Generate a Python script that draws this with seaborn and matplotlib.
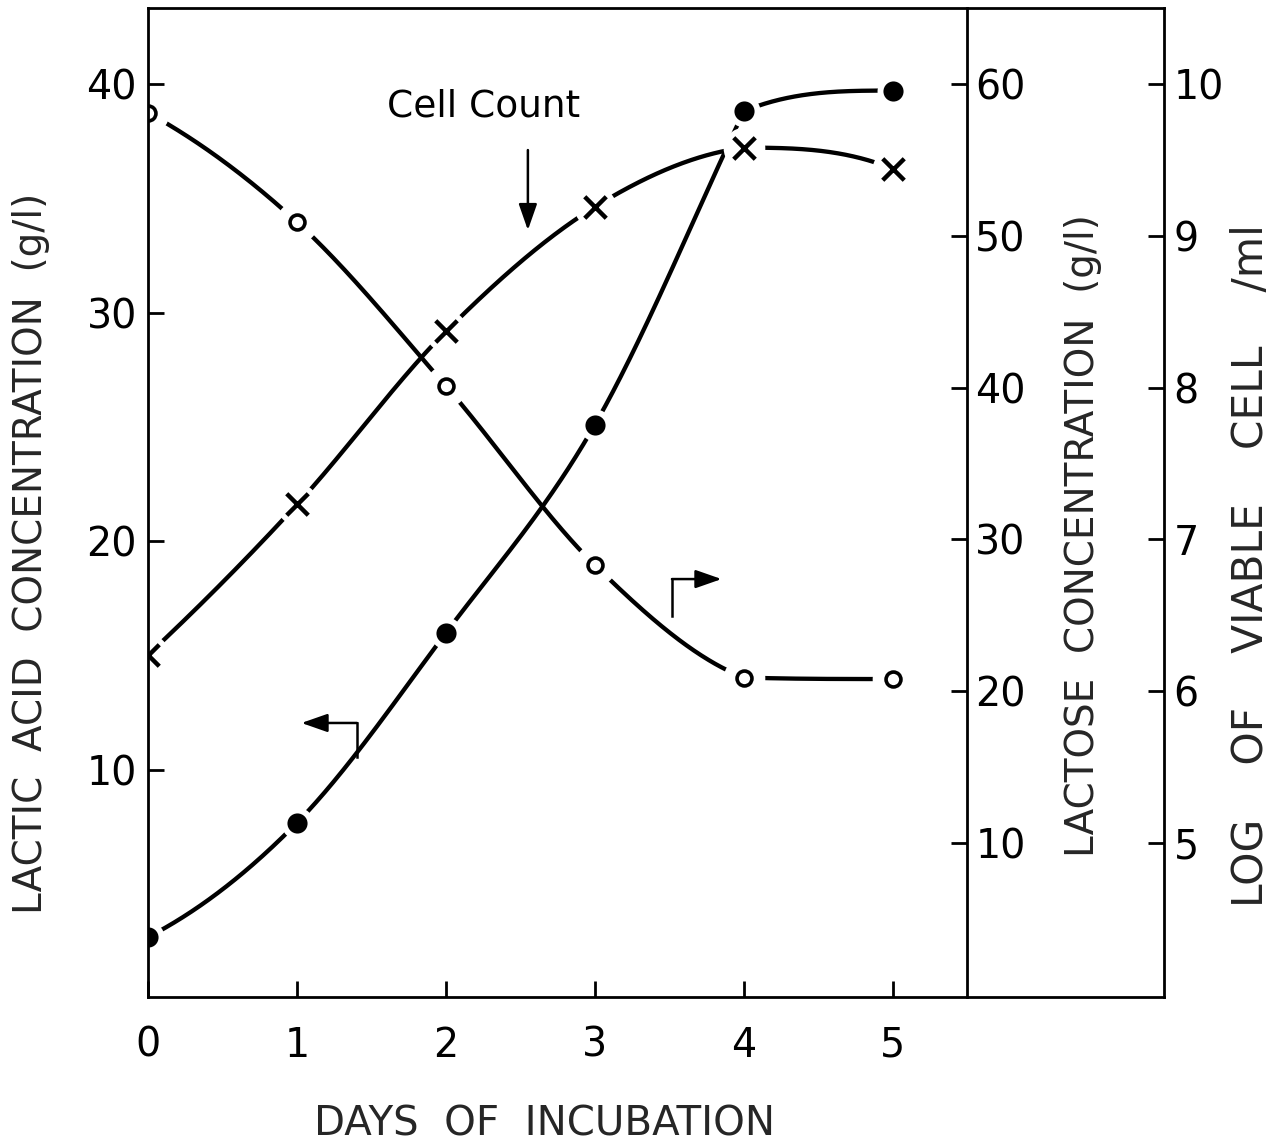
import numpy as np
import pandas as pd
import matplotlib
matplotlib.use("Agg")
import matplotlib.pyplot as plt
import seaborn as sns

# ---------------- data ----------------
days = [0, 1, 2, 3, 4, 5]
lactic_acid = [2.7, 7.7, 16.0, 25.1, 38.8, 39.7]        # g/l, left axis (filled circles)
lactose = [58.1, 50.9, 40.1, 28.3, 20.9, 20.8]          # g/l, middle axis (open circles)
log_cells = [6.24, 7.23, 8.37, 9.19, 9.58, 9.44]        # log viable cell / ml, right axis (x)

x_ticks = [0, 1, 2, 3, 4, 5]
lactic_ticks = [10, 20, 30, 40]
lactose_ticks = [10, 20, 30, 40, 50, 60]
cell_ticks = [5, 6, 7, 8, 9, 10]


def smooth_curve(x, y, xf, knee=False):
    """Hand-drawn-like curve: cubic Hermite with Catmull-Rom tangents,
    optional one-sided tangents at a sharp knee, limited per segment
    (Fritsch-Carlson) so there is no overshoot."""
    x = np.asarray(x, float); y = np.asarray(y, float)
    n = len(x); h = np.diff(x); d = np.diff(y) / h
    m0 = (3 * d[0] - d[1]) / 2
    mn = (3 * d[-1] - d[-2]) / 2
    left = np.zeros(n - 1); right = np.zeros(n - 1)   # tangents at segment start / end
    left[0] = m0 if np.sign(m0) == np.sign(d[0]) else 0.0
    right[-1] = mn if np.sign(mn) == np.sign(d[-1]) else 0.0
    for k in range(1, n - 1):
        a, b = d[k - 1], d[k]
        avg = (a + b) / 2
        if knee and a * b > 0 and abs(a) > 5 * abs(b):
            right[k - 1] = a
            left[k] = a
        else:
            right[k - 1] = avg
            left[k] = avg
    for k in range(n - 1):
        if d[k] == 0:
            left[k] = right[k] = 0.0
            continue
        p = left[k] / d[k]; q = right[k] / d[k]
        if p < 0: left[k] = 0.0; p = 0.0
        if q < 0: right[k] = 0.0; q = 0.0
        r = np.hypot(p, q)
        if r > 3:
            left[k] *= 3 / r; right[k] *= 3 / r
    idx = np.clip(np.searchsorted(x, xf) - 1, 0, n - 2)
    t = (xf - x[idx]) / h[idx]
    h00 = 2 * t**3 - 3 * t**2 + 1; h10 = t**3 - 2 * t**2 + t
    h01 = -2 * t**3 + 3 * t**2; h11 = t**3 - t**2
    return h00 * y[idx] + h10 * h[idx] * left[idx] + h01 * y[idx + 1] + h11 * h[idx] * right[idx]


sns.set_theme(style="white")
plt.rcParams["font.family"] = ["DejaVu Sans"]

fig = plt.figure(figsize=(12.85, 11.47), dpi=100)
ax = fig.add_axes([0.11518, 0.13121, 0.79066, 0.86182])
ax2 = ax.twinx()
ax3 = ax.twinx()

LW = 3.1
xf = np.linspace(0, 5, 600)
df = pd.DataFrame({"day": days, "lactic": lactic_acid, "lactose": lactose, "cells": log_cells})
curves = pd.DataFrame({"day": xf,
                       "lactic": smooth_curve(days, lactic_acid, xf, knee=True),
                       "lactose": smooth_curve(days, lactose, xf),
                       "cells": smooth_curve(days, log_cells, xf)})

for a, col, marker, halo, mkw in [
    (ax, "lactic", "o", 23, dict(s=210, color="black", linewidth=0)),
    (ax2, "lactose", "o", 30, dict(s=115, facecolors="white", edgecolors="black", linewidth=2.6)),
    (ax3, "cells", "x", 30, dict(s=240, color="black", linewidth=3.2)),
]:
    sns.lineplot(data=curves, x="day", y=col, ax=a, color="black", linewidth=LW,
                 zorder=2, legend=False)
    sns.scatterplot(data=df, x="day", y=col, ax=a, marker="o", s=halo ** 2, color="white",
                    linewidth=0, zorder=3, legend=False)
    sns.scatterplot(data=df, x="day", y=col, ax=a, marker=marker, zorder=6,
                    legend=False, **mkw)

# ---------------- axes limits ----------------
ax.set_xlim(0, 6.82)
ax.set_ylim(0.105, 43.31)
ax2.set_ylim(-0.11, 65.0)
ax3.set_ylim(3.989, 10.50)

for a in (ax, ax2, ax3):
    a.set_xlabel("")
    a.set_ylabel("")
    a.patch.set_visible(False)
    for s in a.spines.values():
        s.set_visible(False)
        s.set_linewidth(2.0)
        s.set_color("black")

ax.spines["bottom"].set_visible(True)
ax.spines["top"].set_visible(True)
ax3.spines["left"].set_visible(True)
ax3.spines["right"].set_visible(True)
ax3.spines["left"].set_zorder(5)
ax2.spines["right"].set_visible(True)
ax2.spines["right"].set_position(("axes", 0.806))

TICK_FS = 28.5
ax.set_xticks(x_ticks)
ax.set_xticklabels([str(v) for v in x_ticks])
ax.set_yticks(lactic_ticks)
ax.set_yticklabels([str(v) for v in lactic_ticks])
ax.tick_params(axis="x", direction="in", length=11.5, width=2, pad=21,
               labelsize=TICK_FS, bottom=True, top=False, colors="black")
ax.tick_params(axis="y", direction="in", length=11.5, width=2, pad=8,
               labelsize=TICK_FS, left=True, right=False, colors="black")

ax2.set_yticks(lactose_ticks)
ax2.set_yticklabels([str(v) for v in lactose_ticks])
ax2.tick_params(axis="y", direction="in", length=11.5, width=2, pad=6,
                labelsize=TICK_FS, left=False, right=True, colors="black")
ax3.set_yticks(cell_ticks)
ax3.set_yticklabels([str(v) for v in cell_ticks])
ax3.tick_params(axis="y", direction="in", length=11.5, width=2, pad=7,
                labelsize=TICK_FS, left=False, right=True, colors="black")
for a in (ax2, ax3):
    a.tick_params(axis="x", bottom=False, top=False, labelbottom=False)

# ---------------- annotations ----------------
ax.text(2.255, 39.0, "Cell Count", fontsize=27, ha="center", va="center", color="black")
arrow = dict(arrowstyle="-|>,head_length=0.8,head_width=0.28", color="black", lw=1.8,
             shrinkA=0, shrinkB=0, mutation_scale=20)
ax.annotate("", xy=(2.55, 33.6), xytext=(2.55, 37.1), arrowprops=arrow)
# lactic acid -> left axis
ax.plot([1.403, 1.403], [10.57, 12.06], color="black", lw=1.8, solid_capstyle="projecting")
ax.annotate("", xy=(1.03, 12.06), xytext=(1.403, 12.06), arrowprops=arrow)
# lactose -> lactose axis
ax.plot([3.517, 3.517], [16.73, 18.35], color="black", lw=1.8, solid_capstyle="projecting")
ax.annotate("", xy=(3.85, 18.35), xytext=(3.517, 18.35), arrowprops=arrow)

# ---------------- axis titles ----------------
fig.text(545 / 1285, 1 - 1124 / 1147, "DAYS  OF  INCUBATION", fontsize=29,
         ha="center", va="center")
fig.text(31 / 1285, 1 - 553 / 1147, "LACTIC  ACID  CONCENTRATION  (g/l)", fontsize=28,
         ha="center", va="center", rotation=90)
fig.text(1083 / 1285, 1 - 536 / 1147, "LACTOSE  CONCENTRATION  (g/l)", fontsize=28,
         ha="center", va="center", rotation=90)
fig.text(1251 / 1285, 1 - 566 / 1147, "LOG    OF    VIABLE    CELL    /ml", fontsize=30.5,
         ha="center", va="center", rotation=90)

fig.savefig("out.png", dpi=100, facecolor="white")
